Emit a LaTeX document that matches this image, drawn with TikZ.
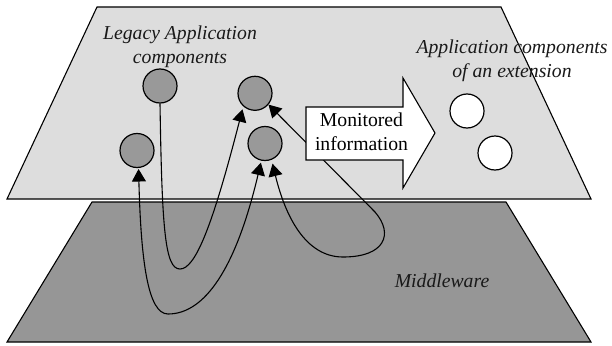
\documentclass[tikz,border=0pt]{standalone}
\usepackage{fontspec}
\setmainfont{Liberation Serif}
\usetikzlibrary{arrows.meta}

\definecolor{appplane}{HTML}{DDDDDD}
\definecolor{mwplane}{HTML}{969696}
\definecolor{legacy}{HTML}{999999}

\tikzset{
  plane/.style={draw=black, line width=1.1pt, line join=miter},
  legacycomp/.style={circle, draw=black, line width=1.2pt, fill=legacy,
    minimum size=34pt, inner sep=0pt},
  extcomp/.style={circle, draw=black, line width=1.2pt, fill=white,
    minimum size=34pt, inner sep=0pt},
  flow/.style={line width=1.1pt, draw=black},
  tip/.style={-{Triangle[length=12.5pt,width=14pt]}},
  tips/.style={{Triangle[length=12.5pt,width=14pt]}-{Triangle[length=12.5pt,width=14pt]}},
  label/.style={font=\fontsize{19.7}{23.5}\selectfont\itshape, align=center,
    inner sep=0pt, text=black!90},
}

\begin{document}
\begin{tikzpicture}[x=1pt, y=-1pt]
  \useasboundingbox (0,0) rectangle (612,345);

  % the two layers
  \fill[appplane] (97,7) -- (501,7) -- (591,199) -- (7,199) -- cycle;
  \draw[plane] (97,7) -- (501,7) -- (591,199) -- (7,199) -- cycle;
  \fill[mwplane] (92,202) -- (506,202) -- (591,342) -- (7,342) -- cycle;
  \draw[plane] (92,202) -- (506,202) -- (591,342) -- (7,342) -- cycle;

  % components
  \node[legacycomp] (c1) at (160,86) {};
  \node[legacycomp] (c2) at (137,150.5) {};
  \node[legacycomp] (c3) at (255,93.3) {};
  \node[legacycomp] (c4) at (265,143.5) {};
  \node[extcomp] (e1) at (467,111) {};
  \node[extcomp] (e2) at (495,153) {};

  % interactions routed through the middleware
  \draw[flow, tip, shorten >=3pt] (c1.south)
     .. controls (162,230) and (165,269) .. (180,269)
     .. controls (195,269) and (212,228) .. (c3.228);
  \draw[flow, tips, shorten <=1pt, shorten >=2pt] (c2.-85)
     .. controls (141,262) and (148,314) .. (168,314)
     .. controls (205,314) and (236,268) .. (c4.258);
  \draw[flow, tips, shorten <=4pt] (c4.292)
     .. controls (285,215) and (305,257) .. (343,257)
     .. controls (385,257) and (394,234) .. (375,212)
     -- (c3.-40);

  % monitored information, passed on to the extension
  \filldraw[fill=white, draw=black, line width=1.1pt, line join=miter]
     (306,107) -- (403,107) -- (403,78) -- (435,133) -- (403,188)
     -- (403,160) -- (306,160) -- cycle;
  \node[label, font=\fontsize{19.7}{23.5}\selectfont, text=black] (mon)
     at (361.5,132) {Monitored\\information};

  % labels
  \node[label] (legacylbl) at (180,47) {Legacy Application\\components};
  \node[label] (extlbl) at (512,61) {Application components\\of an extension};
  \node[label] (mwlbl) at (442,281) {Middleware};
\end{tikzpicture}
\end{document}
